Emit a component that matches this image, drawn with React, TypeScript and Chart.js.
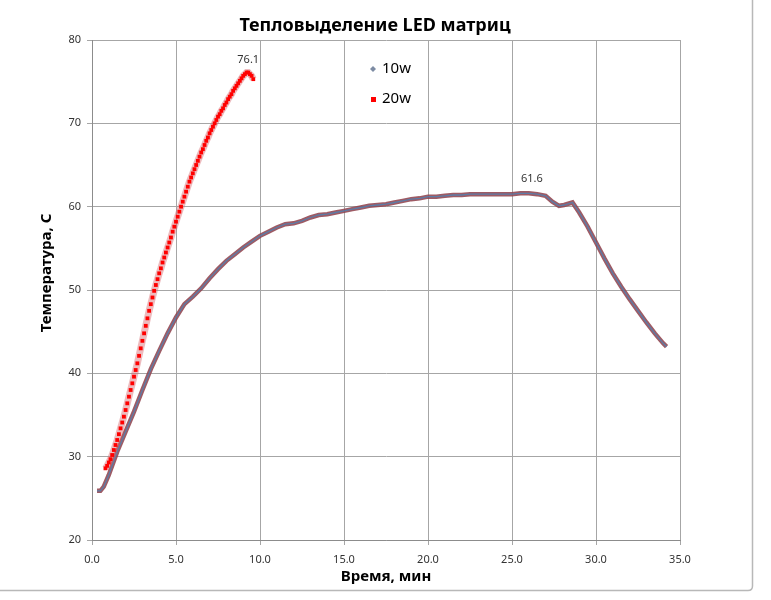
import React, { useEffect, useRef } from 'react';
import { Chart, registerables } from 'chart.js';
Chart.register(...registerables);

const CHART_TITLE = 'Тепловыделение LED матриц';
const X_TITLE = 'Время, мин';
const Y_TITLE = 'Температура, С';
const SERIES_NAMES = ['10w', '20w'];

const time10 = [0.3, 0.5, 0.7, 1.0, 1.5, 2.0, 2.5, 3.0, 3.5, 4.0, 4.5, 5.0, 5.5, 6.0, 6.5, 7.0, 7.5, 8.0, 8.5, 9.0, 9.5, 10.0, 10.5, 11.0, 11.5, 12.0, 12.5, 13.0, 13.5, 14.0, 14.5, 15.0, 15.5, 16.0, 16.5, 17.0, 17.5, 18.0, 18.5, 19.0, 19.5, 20.0, 20.5, 21.0, 21.5, 22.0, 22.5, 23.0, 23.5, 24.0, 24.5, 25.0, 25.5, 26.0, 26.5, 27.0, 27.4, 27.8, 28.1, 28.6, 29.0, 29.5, 30.0, 30.5, 31.0, 31.5, 32.0, 32.5, 33.0, 33.5, 34.0, 34.2];
const temp10 = [25.9, 25.9, 26.4, 27.8, 30.6, 33.0, 35.4, 38.0, 40.5, 42.7, 44.8, 46.7, 48.3, 49.2, 50.2, 51.4, 52.5, 53.5, 54.3, 55.1, 55.8, 56.5, 57.0, 57.5, 57.9, 58.0, 58.3, 58.7, 59.0, 59.1, 59.3, 59.5, 59.7, 59.9, 60.1, 60.2, 60.3, 60.5, 60.7, 60.9, 61.0, 61.2, 61.2, 61.3, 61.4, 61.4, 61.5, 61.5, 61.5, 61.5, 61.5, 61.5, 61.6, 61.6, 61.5, 61.3, 60.6, 60.1, 60.2, 60.5, 59.3, 57.6, 55.7, 53.8, 52.0, 50.4, 48.9, 47.5, 46.1, 44.8, 43.6, 43.2];

const time20 = [
  0.8, 0.9, 1.0, 1.1, 1.2, 1.3, 1.4, 1.5, 1.6, 1.7,
  1.8, 1.9, 2.0, 2.1, 2.2, 2.3, 2.4, 2.5, 2.6, 2.7,
  2.8, 2.9, 3.0, 3.1, 3.2, 3.3, 3.4, 3.5, 3.6, 3.7,
  3.8, 3.9, 4.0, 4.1, 4.2, 4.3, 4.4, 4.5, 4.6, 4.7,
  4.8, 4.9, 5.0, 5.1, 5.2, 5.3, 5.4, 5.5, 5.6, 5.7,
  5.8, 5.9, 6.0, 6.1, 6.2, 6.3, 6.4, 6.5, 6.6, 6.7,
  6.8, 6.9, 7.0, 7.1, 7.2, 7.3, 7.4, 7.5, 7.6, 7.7,
  7.8, 7.9, 8.0, 8.1, 8.2, 8.3, 8.4, 8.5, 8.6, 8.7,
  8.8, 8.9, 9.0, 9.1, 9.2, 9.3, 9.4, 9.5, 9.6,
];
const temp20 = [
  28.6, 28.9, 29.3, 29.7, 30.2, 30.8, 31.4, 32.0, 32.7, 33.4,
  34.1, 34.8, 35.6, 36.4, 37.2, 38.0, 38.8, 39.6, 40.4, 41.2,
  42.1, 43.0, 43.9, 44.8, 45.7, 46.6, 47.5, 48.3, 49.1, 49.9,
  50.6, 51.3, 52.0, 52.6, 53.3, 53.9, 54.5, 55.1, 55.7, 56.3,
  57.0, 57.6, 58.2, 58.8, 59.4, 60.0, 60.6, 61.2, 61.8, 62.4,
  63.0, 63.5, 64.0, 64.5, 65.0, 65.5, 66.0, 66.5, 66.9, 67.4,
  67.9, 68.3, 68.8, 69.2, 69.6, 70.0, 70.4, 70.8, 71.1, 71.5,
  71.8, 72.2, 72.5, 72.9, 73.2, 73.5, 73.9, 74.2, 74.5, 74.8,
  75.1, 75.4, 75.7, 75.9, 76.1, 76.1, 75.9, 75.7, 75.3,
];

const X_MIN = 0, X_MAX = 35, X_STEP = 5;
const Y_MIN = 20, Y_MAX = 80, Y_STEP = 10;

const FONT = '"Noto Sans", "DejaVu Sans", sans-serif';

function toPoints(xs: number[], ys: number[]) {
  return xs.map((x, i) => ({ x, y: ys[i] }));
}

function lastMaxIndex(ys: number[]) {
  let idx = 0;
  ys.forEach((v, i) => { if (v >= ys[idx]) idx = i; });
  return idx;
}

const overlayPlugin = {
  id: 'overlay',
  afterDraw(chart: any) {
    const ctx = chart.ctx as CanvasRenderingContext2D;
    const xs = chart.scales.x;
    const ys = chart.scales.y;
    const area = chart.chartArea;
    ctx.save();

    // title
    ctx.fillStyle = '#000';
    ctx.font = `bold 18px ${FONT}`;
    ctx.textAlign = 'center';
    ctx.textBaseline = 'alphabetic';
    ctx.fillText(CHART_TITLE, 375, 31);

    // axis titles
    ctx.font = `bold 15px ${FONT}`;
    ctx.textBaseline = 'middle';
    ctx.fillText(X_TITLE, (area.left + area.right) / 2, 577);
    ctx.save();
    ctx.translate(47, 273);
    ctx.rotate(-Math.PI / 2);
    ctx.fillText(Y_TITLE, 0, 0);
    ctx.restore();

    // legend
    ctx.font = `15px ${FONT}`;
    ctx.textAlign = 'left';
    ctx.textBaseline = 'middle';
    ctx.fillStyle = '#7d8ba3';
    ctx.beginPath();
    ctx.moveTo(373, 66);
    ctx.lineTo(376, 69);
    ctx.lineTo(373, 72);
    ctx.lineTo(370, 69);
    ctx.closePath();
    ctx.fill();
    ctx.fillStyle = '#000';
    ctx.fillText(SERIES_NAMES[0], 382, 69);
    ctx.fillStyle = '#ff0000';
    ctx.fillRect(371, 97, 5, 5);
    ctx.fillStyle = '#000';
    ctx.fillText(SERIES_NAMES[1], 382, 99);

    // data labels
    ctx.font = `11px ${FONT}`;
    ctx.fillStyle = '#333';
    ctx.textAlign = 'center';
    ctx.textBaseline = 'middle';
    const i20 = lastMaxIndex(temp20);
    ctx.fillText(temp20[i20].toFixed(1), xs.getPixelForValue(time20[i20]), ys.getPixelForValue(temp20[i20]) - 13);
    const i10 = lastMaxIndex(temp10);
    ctx.fillText(temp10[i10].toFixed(1), xs.getPixelForValue(time10[i10]) + 3, ys.getPixelForValue(temp10[i10]) - 14);

    // outer chart border
    ctx.strokeStyle = '#b8b8b8';
    ctx.lineWidth = 1.5;
    ctx.beginPath();
    ctx.moveTo(752.5, 0);
    ctx.lineTo(752.5, 586);
    ctx.quadraticCurveTo(752.5, 590.5, 748, 590.5);
    ctx.lineTo(0, 590.5);
    ctx.stroke();

    ctx.restore();
  },
};

export default function App() {
  const canvasRef = useRef<HTMLCanvasElement | null>(null);

  useEffect(() => {
    const canvas = canvasRef.current;
    if (!canvas) return;
    const pts10 = toPoints(time10, temp10);
    const pts20 = toPoints(time20, temp20);
    const chart = new Chart(canvas, {
      type: 'scatter',
      data: {
        datasets: [
          {
            label: SERIES_NAMES[1],
            data: pts20,
            showLine: true,
            borderColor: 'rgba(215, 105, 110, 0.45)',
            borderWidth: 7,
            pointStyle: 'rect',
            pointRadius: 2.7,
            pointBackgroundColor: '#ff0000',
            pointBorderWidth: 0,
            pointBorderColor: '#ff0000',
            order: 0,
          },
          {
            label: SERIES_NAMES[0] + ' core',
            data: pts10,
            showLine: true,
            borderColor: 'rgba(70, 135, 190, 0.75)',
            borderWidth: 1.3,
            pointRadius: 0,
            order: 1,
          },
          {
            label: SERIES_NAMES[0],
            data: pts10,
            showLine: true,
            borderColor: 'rgba(145, 68, 78, 0.88)',
            borderWidth: 4.5,
            pointRadius: 0,
            order: 2,
          },
        ],
      },
      options: {
        responsive: false,
        animation: false,
        events: [],
        layout: { padding: { left: 0, top: 40, right: 91, bottom: 0 } },
        plugins: {
          legend: { display: false },
          title: { display: false },
          tooltip: { enabled: false },
        },
        scales: {
          x: {
            type: 'linear',
            min: X_MIN,
            max: X_MAX,
            afterFit: (s: any) => { s.height = 60; },
            grid: { color: '#a6a6a6', lineWidth: 1, tickLength: 5, drawTicks: true },
            border: { color: '#8c8c8c', width: 1 },
            ticks: {
              stepSize: X_STEP,
              padding: 8,
              color: '#333',
              font: { family: FONT, size: 11 },
              callback: (v: any) => Number(v).toFixed(1),
            },
          },
          y: {
            type: 'linear',
            min: Y_MIN,
            max: Y_MAX,
            afterFit: (s: any) => { s.width = 92; },
            grid: { color: '#a6a6a6', lineWidth: 1, tickLength: 5, drawTicks: true },
            border: { color: '#8c8c8c', width: 1 },
            ticks: {
              stepSize: Y_STEP,
              padding: 6,
              color: '#333',
              font: { family: FONT, size: 11 },
              callback: (v: any) => String(v),
            },
          },
        },
      },
      plugins: [overlayPlugin],
    });
    return () => chart.destroy();
  }, []);

  return (
    <div style={{ position: 'absolute', left: 0, top: 0, width: 771, height: 600, background: '#fff' }}>
      <canvas ref={canvasRef} width={771} height={600} style={{ display: 'block' }} />
    </div>
  );
}
